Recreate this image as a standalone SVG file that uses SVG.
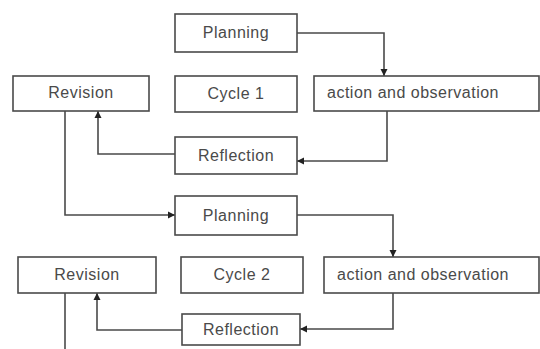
<svg xmlns="http://www.w3.org/2000/svg" width="540" height="349" viewBox="0 0 540 349">
<style>
.box{fill:#fff;stroke:#4a4a4a;stroke-width:1.6}
.t{font-family:"Liberation Sans",Arial,sans-serif;font-size:16px;letter-spacing:0.5px;fill:#4a4a4a;text-anchor:middle}
.tl{text-anchor:start}
.c{fill:none;stroke:#4a4a4a;stroke-width:1.6}
</style>
<defs>
<marker id="a" markerWidth="8" markerHeight="8" refX="7" refY="4" orient="auto" markerUnits="userSpaceOnUse">
<path d="M0,0.5 L7,4 L0,7.5 Z" fill="#222"/>
</marker>
</defs>
<rect width="540" height="349" fill="#fff"/>
<g id="connectors">
<path class="c" d="M297,33 H384 V76" marker-end="url(#a)"/>
<path class="c" d="M387,111 V161 H297" marker-end="url(#a)"/>
<path class="c" d="M175,154 H98 V111" marker-end="url(#a)"/>
<path class="c" d="M65,111 V215 H175" marker-end="url(#a)"/>
<path class="c" d="M297,215 H393 V257" marker-end="url(#a)"/>
<path class="c" d="M393,293 V329 H300" marker-end="url(#a)"/>
<path class="c" d="M182,330 H97 V293" marker-end="url(#a)"/>
<path class="c" d="M65,293 V349"/>
</g>
<g id="planning1"><rect class="box" x="175" y="14" width="122" height="38"/><text class="t" x="236" y="38">Planning</text></g>
<g id="revision1"><rect class="box" x="13" y="76" width="136" height="35"/><text class="t" x="81" y="98">Revision</text></g>
<g id="cycle1"><rect class="box" x="175" y="76" width="122" height="36"/><text class="t" x="236" y="99">Cycle 1</text></g>
<g id="action1"><rect class="box" x="314" y="76" width="225" height="35"/><text class="t tl" x="327" y="98">action and observation</text></g>
<g id="reflection1"><rect class="box" x="175" y="137" width="122" height="37"/><text class="t" x="236" y="161">Reflection</text></g>
<g id="planning2"><rect class="box" x="175" y="196" width="122" height="39"/><text class="t" x="236" y="221">Planning</text></g>
<g id="revision2"><rect class="box" x="18" y="257" width="138" height="36"/><text class="t" x="87" y="280">Revision</text></g>
<g id="cycle2"><rect class="box" x="181" y="257" width="122" height="36"/><text class="t" x="242" y="280">Cycle 2</text></g>
<g id="action2"><rect class="box" x="324" y="257" width="215" height="36"/><text class="t tl" x="337" y="280">action and observation</text></g>
<g id="reflection2"><rect class="box" x="182" y="314" width="118" height="31"/><text class="t" x="241" y="335">Reflection</text></g>
</svg>
